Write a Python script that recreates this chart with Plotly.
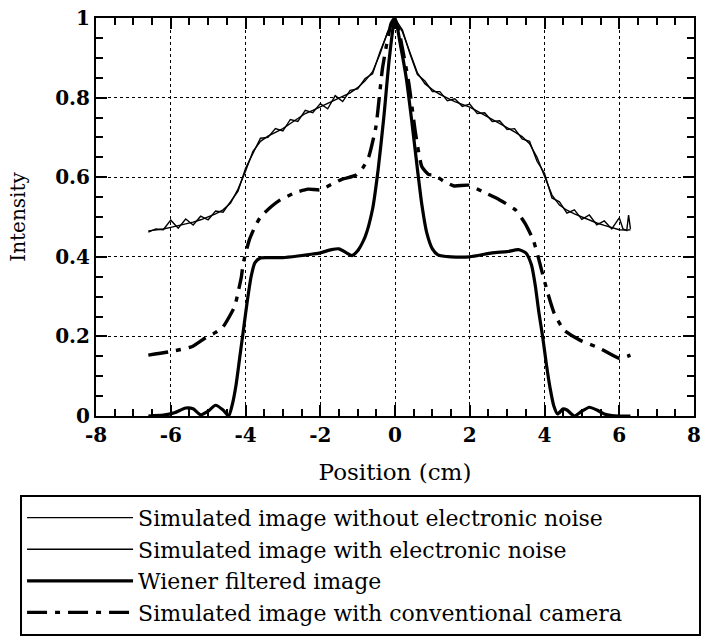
import plotly.graph_objects as go

# ---------------- data ----------------
x_smooth = [-6.6, -6.4, -6.2, -6.0, -5.8, -5.6, -5.4, -5.2, -5.0, -4.8, -4.6, -4.4, -4.2, -4.0,
            -3.8, -3.6, -3.4, -3.2, -3.0, -2.8, -2.6, -2.4, -2.2, -2.0, -1.8, -1.6, -1.4, -1.2,
            -1.0, -0.8, -0.6, -0.4, -0.2, 0.0, 0.2, 0.4, 0.6, 0.8, 1.0, 1.2, 1.4, 1.6, 1.8, 2.0,
            2.2, 2.4, 2.6, 2.8, 3.0, 3.2, 3.4, 3.6, 3.8, 4.0, 4.2, 4.4, 4.6, 4.8, 5.0, 5.2, 5.4,
            5.6, 5.8, 6.0, 6.2, 6.3]
y_no_noise = [0.465, 0.467, 0.470, 0.474, 0.478, 0.482, 0.487, 0.493, 0.500, 0.508, 0.518, 0.535,
              0.570, 0.615, 0.665, 0.690, 0.703, 0.713, 0.722, 0.735, 0.748, 0.760, 0.768, 0.777,
              0.786, 0.795, 0.803, 0.812, 0.825, 0.842, 0.865, 0.910, 0.965, 1.000, 0.965, 0.915,
              0.862, 0.835, 0.820, 0.808, 0.798, 0.790, 0.783, 0.776, 0.766, 0.756, 0.745, 0.736,
              0.726, 0.714, 0.702, 0.684, 0.650, 0.600, 0.555, 0.530, 0.517, 0.508, 0.500, 0.492,
              0.485, 0.479, 0.473, 0.468, 0.467, 0.468]

x_noisy = [-6.6, -6.4, -6.2, -6.0, -5.8, -5.6, -5.4, -5.2, -5.0, -4.8, -4.6, -4.4, -4.2, -4.0,
           -3.8, -3.6, -3.4, -3.2, -3.0, -2.8, -2.6, -2.4, -2.2, -2.0, -1.8, -1.6, -1.4, -1.2,
           -1.0, -0.8, -0.6, -0.4, -0.2, 0.0, 0.2, 0.4, 0.6, 0.8, 1.0, 1.2, 1.4, 1.6, 1.8, 2.0,
           2.2, 2.4, 2.6, 2.8, 3.0, 3.2, 3.4, 3.6, 3.8, 4.0, 4.2, 4.4, 4.6, 4.8, 5.0, 5.2, 5.4,
           5.6, 5.8, 6.0, 6.1, 6.2, 6.25, 6.3]
y_noisy = [0.462, 0.470, 0.468, 0.492, 0.472, 0.495, 0.480, 0.502, 0.493, 0.515, 0.512, 0.538,
           0.565, 0.622, 0.660, 0.698, 0.700, 0.722, 0.716, 0.745, 0.740, 0.768, 0.762, 0.785,
           0.772, 0.805, 0.790, 0.818, 0.822, 0.848, 0.860, 0.915, 0.962, 0.998, 0.970, 0.910,
           0.858, 0.842, 0.815, 0.815, 0.792, 0.797, 0.778, 0.784, 0.760, 0.762, 0.740, 0.742,
           0.720, 0.722, 0.696, 0.690, 0.640, 0.610, 0.548, 0.538, 0.510, 0.518, 0.494, 0.505,
           0.480, 0.490, 0.470, 0.498, 0.470, 0.466, 0.505, 0.470]

x_wiener = [-6.6, -6.2, -5.9, -5.6, -5.4, -5.2, -5.0, -4.8, -4.6, -4.45, -4.35, -4.25, -4.15,
            -4.05, -3.95, -3.85, -3.75, -3.6, -3.4, -3.0, -2.6, -2.2, -2.0, -1.7, -1.5, -1.3,
            -1.15, -1.0, -0.8, -0.6, -0.45, -0.3, -0.15, 0.0, 0.15, 0.3, 0.45, 0.6, 0.72, 0.85,
            1.0, 1.15, 1.5, 2.0, 2.6, 3.0, 3.3, 3.5, 3.65, 3.75, 3.85, 3.95, 4.05, 4.15, 4.25,
            4.35, 4.5, 4.6, 4.8, 5.0, 5.2, 5.4, 5.6, 5.8, 6.0, 6.3]
y_wiener = [0.0, 0.002, 0.008, 0.020, 0.018, 0.003, 0.012, 0.027, 0.015, 0.0, 0.030, 0.080,
            0.150, 0.220, 0.290, 0.350, 0.385, 0.397, 0.398, 0.398, 0.402, 0.407, 0.410, 0.418,
            0.420, 0.410, 0.403, 0.415, 0.450, 0.520, 0.620, 0.750, 0.900, 1.000, 0.930, 0.850,
            0.740, 0.620, 0.530, 0.460, 0.420, 0.405, 0.400, 0.400, 0.410, 0.413, 0.418, 0.410,
            0.380, 0.330, 0.260, 0.200, 0.130, 0.070, 0.025, 0.005, 0.018, 0.015, 0.0, 0.012,
            0.022, 0.015, 0.005, 0.001, 0.0, 0.0]

x_conv = [-6.6, -6.0, -5.44, -5.08, -4.8, -4.6, -4.4, -4.29, -4.2, -4.11, -4.06, -3.9, -3.75,
          -3.6, -3.3, -3.07, -2.7, -2.33, -2.0, -1.7, -1.41, -1.05, -0.85, -0.7, -0.51, -0.33,
          -0.1, 0.0, 0.1, 0.37, 0.55, 0.72, 0.9, 1.06, 1.3, 1.58, 1.97, 2.36, 2.8, 3.22, 3.48,
          3.7, 3.83, 3.92, 4.09, 4.26, 4.52, 4.96, 5.48, 6.0, 6.3]
y_conv = [0.153, 0.162, 0.174, 0.196, 0.210, 0.224, 0.255, 0.275, 0.310, 0.350, 0.384, 0.442,
          0.475, 0.500, 0.527, 0.543, 0.560, 0.570, 0.568, 0.582, 0.595, 0.605, 0.625, 0.652,
          0.727, 0.877, 0.987, 1.000, 0.970, 0.836, 0.710, 0.626, 0.607, 0.605, 0.590, 0.578,
          0.580, 0.563, 0.543, 0.518, 0.484, 0.442, 0.400, 0.367, 0.308, 0.258, 0.216, 0.190,
          0.170, 0.145, 0.153]

series_names = ["Simulated image without electronic noise",
                "Simulated image with electronic noise",
                "Wiener filtered image",
                "Simulated image with conventional camera"]

x_tickvals = [-8, -6, -4, -2, 0, 2, 4, 6, 8]
x_ticktext = ["-8", "-6", "-4", "-2", "0", "2", "4", "6", "8"]
y_tickvals = [0, 0.2, 0.4, 0.6, 0.8, 1.0]
y_ticktext = ["0", "0.2", "0.4", "0.6", "0.8", "1"]

# ---------------- figure ----------------
FONT = "DejaVu Serif"
fig = go.Figure()
fig.add_trace(go.Scatter(x=x_smooth, y=y_no_noise, mode="lines", name=series_names[0],
                         line=dict(color="black", width=1.4)))
fig.add_trace(go.Scatter(x=x_noisy, y=y_noisy, mode="lines", name=series_names[1],
                         line=dict(color="black", width=1.4)))
fig.add_trace(go.Scatter(x=x_wiener, y=y_wiener, mode="lines", name=series_names[2],
                         line=dict(color="black", width=3.2, shape="spline", smoothing=0.6)))
fig.add_trace(go.Scatter(x=x_conv, y=y_conv, mode="lines", name=series_names[3],
                         line=dict(color="black", width=3.4, dash="20px,8px,5px,8px",
                                   shape="spline", smoothing=0.5)))

axis_common = dict(
    showline=True, linecolor="black", linewidth=2, mirror="ticks",
    ticks="inside", ticklen=11, tickwidth=2, tickcolor="black",
    showgrid=True, gridcolor="black", gridwidth=1.3, griddash="dot",
    zeroline=False,
    tickfont=dict(family=FONT, size=20, color="black", weight="bold"),
)

fig.update_xaxes(range=[-8, 8], tickvals=x_tickvals, ticktext=x_ticktext,
                 minor=dict(dtick=0.5, tick0=0, ticks="inside", ticklen=7, tickwidth=2,
                            tickcolor="black", showgrid=False),
                 title=dict(text="Position (cm)", font=dict(family=FONT, size=23, color="black"),
                            standoff=18),
                 **axis_common)
fig.update_yaxes(range=[0, 1], tickvals=y_tickvals, ticktext=y_ticktext,
                 minor=dict(dtick=0.05, tick0=0, ticks="inside", ticklen=7, tickwidth=2,
                            tickcolor="black", showgrid=False),
                 title=dict(text="Intensity", font=dict(family=FONT, size=20, color="black"),
                            standoff=24),
                 **axis_common)

fig.update_layout(
    width=713, height=642,
    margin=dict(l=96, r=19, t=18, b=226, autoexpand=False),
    paper_bgcolor="white", plot_bgcolor="white",
    showlegend=True,
    legend=dict(orientation="h", entrywidthmode="pixels", entrywidth=556, itemwidth=106,
                x=-0.127, xanchor="left", y=-0.198, yanchor="top",
                bordercolor="black", borderwidth=2, bgcolor="white",
                font=dict(family=FONT, size=22, color="black"),
                tracegroupgap=0),
)

fig.write_html("out.html")
